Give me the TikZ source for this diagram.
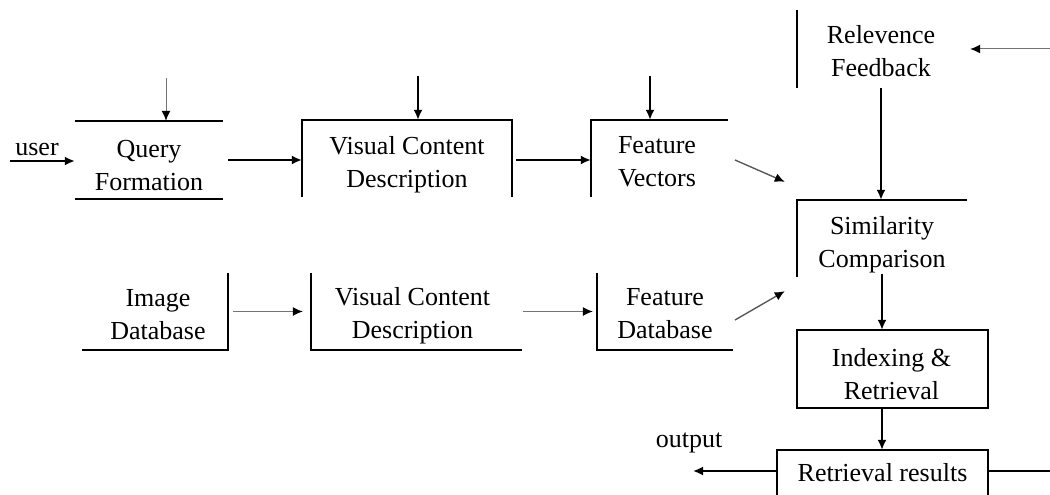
\documentclass[tikz,border=0pt]{standalone}
\usepackage{fontspec}
\setmainfont{Liberation Serif}
\usetikzlibrary{arrows.meta}
\begin{document}
\begin{tikzpicture}[x=1pt,y=-1pt,
  txt/.style={font=\fontsize{26}{33}\selectfont, align=center, inner sep=0pt},
  boxarea/.style={inner sep=0pt, minimum width=#1},
  edge/.style={line width=2pt, black},
  arr/.style={line width=1.8pt, -{Latex[length=10pt,width=9pt]}},
  thinarr/.style={line width=1pt, black!55, -{Latex[length=10pt,width=9pt,black]}},
  diagarr/.style={line width=1.4pt, black!65, -{Latex[length=10pt,width=9pt,black]}}
]
\useasboundingbox (0,0) rectangle (1050,495);

% box areas
\node[boxarea=148pt, minimum height=78pt] (qf) at (149,160) {};
\node[boxarea=210pt, minimum height=77pt] (vcd1) at (407,158.5) {};
\node[boxarea=137pt, minimum height=77pt] (fv) at (659.5,158.5) {};
\node[boxarea=168pt, minimum height=78pt] (rf) at (881,49) {};
\node[boxarea=170pt, minimum height=77pt] (sc) at (882,238.5) {};
\node[boxarea=191pt, minimum height=78pt] (ir) at (892.5,369) {};
\node[boxarea=211pt, minimum height=45pt] (rr) at (882.5,472.5) {};
\node[boxarea=146pt, minimum height=77pt] (id) at (155,311.5) {};
\node[boxarea=211pt, minimum height=77pt] (vcd2) at (416.5,311.5) {};
\node[boxarea=136pt, minimum height=77pt] (fd) at (665,311.5) {};

% texts
\node[txt] (qft) at ([shift={(0,5.5)}]qf.center) {Query\\Formation};
\node[txt] (vcd1t) at ([shift={(0,6)}]vcd1.center) {Visual Content\\Description};
\node[txt] (fvt) at ([shift={(-2.5,3)}]fv.center) {Feature\\Vectors};
\node[txt] (rft) at ([shift={(0,2.5)}]rf.center) {Relevence\\Feedback};
\node[txt] (sct) at ([shift={(0,6)}]sc.center) {Similarity\\Comparison};
\node[txt] (irt) at ([shift={(-1,5)}]ir.center) {Indexing \&\\Retrieval};
\node[txt] (rrt) at (rr.center) {Retrieval results};
\node[txt] (idt) at ([shift={(3,3)}]id.center) {Image\\Database};
\node[txt] (vcd2t) at ([shift={(-4,4.5)}]vcd2.center) {Visual Content\\Description};
\node[txt] (fdt) at ([shift={(0,2.5)}]fd.center) {Feature\\Database};
\node[txt] (ulab) at (37,150) {user};
\node[txt] (olab) at (689,443) {output};

% partial box outlines
\draw[edge] (qf.north west) -- (qf.north east);
\draw[edge] (qf.south west) -- (qf.south east);
\draw[edge] (vcd1.south west) -- (vcd1.north west) -- (vcd1.north east) -- (vcd1.south east);
\draw[edge] (fv.south west) -- (fv.north west) -- (fv.north east);
\draw[edge] (rf.north west) -- (rf.south west);
\draw[edge] (sc.south west) -- (sc.north west) -- (sc.north east);
\draw[edge] (ir.north west) rectangle (ir.south east);
\draw[edge] (rr.south west) -- (rr.north west) -- (rr.north east) -- (rr.south east);
\draw[edge] (id.north east) -- (id.south east) -- (id.south west);
\draw[edge] (vcd2.north west) -- (vcd2.south west) -- (vcd2.south east);
\draw[edge] (fd.north west) -- (fd.south west) -- (fd.south east);

% free ends
\coordinate (uin) at (10,161);
\coordinate (qtop) at (166,78);
\coordinate (vtop) at (418,76);
\coordinate (ftop) at (650,76);
\coordinate (rin) at (1050,49);
\coordinate (outp) at (693,471);
\coordinate (rout) at (1050,471);
\coordinate (d1) at (735,160);
\coordinate (d2) at (735,320);

% connectors
\draw[arr] (uin) -- (uin -| qf.west);
\draw[thinarr] (qtop) -- (qtop |- qf.north);
\draw[arr] ([xshift=5pt]qf.east |- 0,160) -- (vcd1.west |- 0,160);
\draw[arr] (vtop) -- (vtop |- vcd1.north);
\draw[arr] ([xshift=4pt]vcd1.east |- 0,160) -- (fv.west |- 0,160);
\draw[arr] (ftop) -- (ftop |- fv.north);
\draw[diagarr] (d1) -- ([shift={(-12pt,18pt)}]sc.north west);
\draw[diagarr] (d2) -- ([shift={(-12pt,-14pt)}]sc.south west);
\draw[thinarr] (rin) -- ([xshift=5pt]rf.east |- rin);
\draw[arr] (rf.south) -- (rf.south |- sc.north);
\draw[arr] ([yshift=3pt]sc.south) -- (sc.south |- ir.north);
\draw[arr] (sc.south |- ir.south) -- (sc.south |- rr.north);
\draw[arr] (rr.west |- outp) -- (outp);
\draw[edge] (rr.east |- rout) -- (rout);
\draw[thinarr] ([xshift=5pt]id.east) -- ([xshift=-8pt]vcd2.west);
\draw[thinarr] ([xshift=1pt]vcd2.east) -- ([xshift=-4pt]fd.west);
\end{tikzpicture}
\end{document}
